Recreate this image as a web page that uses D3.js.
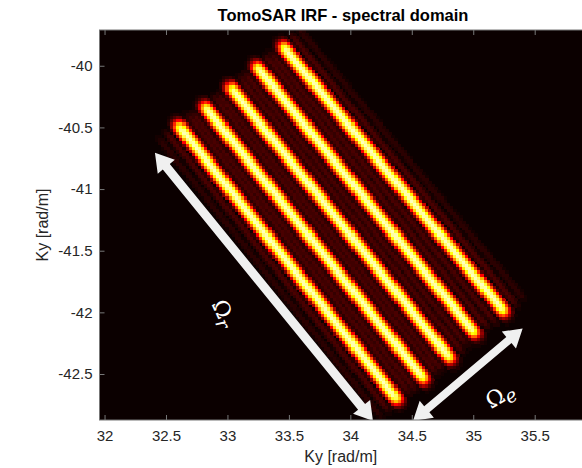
<!DOCTYPE html>
<html>
<head>
<meta charset="utf-8">
<script src="https://cdn.jsdelivr.net/npm/d3@7"></script>
<style>
body { margin: 0; background: #fff; }
text { font-family: "Liberation Sans", Arial, sans-serif; }
</style>
</head>
<body>
<div id="chart"></div>
<script>
"use strict"

const WIDTH = 582;
const HEIGHT = 468;
const PLOT_LEFT = 99.5;
const PLOT_RIGHT = 590;
const PLOT_TOP = 30;
const PLOT_BOTTOM = 420;

// axes
const kxDomain = [31.959, 35.95];
const kyDomain = [-42.873, -39.71];
const kxTicks = [32, 32.5, 33, 33.5, 34, 34.5, 35, 35.5];
const kyTicks = [-40, -40.5, -41, -41.5, -42, -42.5];
const GRID_STEP = 0.025;

// the five fringes: upper-left tip and lower-right tip
const stripeStartKx = [32.581, 32.793, 33.004, 33.216, 33.428];
const stripeStartKy = [-40.457, -40.303, -40.148, -39.978, -39.816];
const stripeEndKx = [34.404, 34.624, 34.835, 35.039, 35.275];
const stripeEndKy = [-42.736, -42.573, -42.403, -42.200, -42.022];
const stripePeak = [0.93, 0.93, 0.93, 0.93, 0.93];

// annotation arrows (from tip, to tip) and their labels
const arrowLabels = ["r", "e"];
const arrowFromKx = [32.410, 34.510];
const arrowFromKy = [-40.706, -42.880];
const arrowToKx = [34.184, 35.402];
const arrowToKy = [-42.880, -42.130];
const labelKx = [32.972, 35.218];
const labelKy = [-42.006, -42.671];
const labelAngle = [65, -30];

var x = d3.scaleLinear().domain(kxDomain).range([PLOT_LEFT, PLOT_RIGHT]);
var y = d3.scaleLinear().domain(kyDomain).range([PLOT_BOTTOM, PLOT_TOP]);

// MATLAB hot(64)
function hotMap(m) {
	var n = Math.floor(3 / 8 * m);
	var out = [];
	for (var i = 0; i < m; i++) {
		var r = Math.min(1, (i + 1) / n);
		var g = i < n ? 0 : Math.min(1, (i + 1 - n) / n);
		var b = i < 2 * n ? 0 : (i + 1 - 2 * n) / (m - 2 * n);
		out.push(d3.rgb(r * 255, g * 255, b * 255).formatHex());
	}
	return out;
}
const hot = hotMap(64);
var color = d3.scaleQuantize().domain([0, 1]).range(hot);

var svg = d3.select("#chart").append("svg")
	.attr("width", WIDTH)
	.attr("height", HEIGHT);

svg.append("defs").append("clipPath").attr("id", "plotClip")
	.append("rect")
	.attr("x", PLOT_LEFT).attr("y", PLOT_TOP)
	.attr("width", PLOT_RIGHT - PLOT_LEFT).attr("height", PLOT_BOTTOM - PLOT_TOP);

var plot = svg.append("g").attr("clip-path", "url(#plotClip)");

plot.append("rect")
	.attr("x", PLOT_LEFT).attr("y", PLOT_TOP)
	.attr("width", PLOT_RIGHT - PLOT_LEFT).attr("height", PLOT_BOTTOM - PLOT_TOP)
	.attr("fill", hot[0]);

// fringe geometry in pixels
var stripes = stripeStartKx.map(function(d, i) {
	var x0 = x(d), y0 = y(stripeStartKy[i]);
	var x1 = x(stripeEndKx[i]), y1 = y(stripeEndKy[i]);
	var len = Math.hypot(x1 - x0, y1 - y0);
	return { x0: x0, y0: y0, ux: (x1 - x0) / len, uy: (y1 - y0) / len, len: len, peak: stripePeak[i] };
});

const LOBE_W = 9.5;
const TIP_S = 5;
const SIDE_GAIN = 0.5;

function sinc(u) { return u == 0 ? 1 : Math.sin(Math.PI * u) / (Math.PI * u); }
function edge(u) { return 0.5 * (1 + Math.tanh((u - 0.2 * TIP_S) / TIP_S)); }

// main lobe plus two weakened side lobes across the fringe
function profile(u) {
	u = Math.abs(u);
	if (u < 1) return Math.abs(sinc(u));
	if (u < 3) return SIDE_GAIN * Math.abs(sinc(u));
	return 0;
}

function intensity(px, py) {
	var v = 0;
	stripes.forEach(function(s) {
		var dx = px - s.x0, dy = py - s.y0;
		var t = dx * s.ux + dy * s.uy;
		var d = dx * s.uy - dy * s.ux;
		var a = s.peak * edge(t) * edge(s.len - t) * profile(d / LOBE_W);
		if (a > v) v = a;
	});
	return Math.min(1, v);
}

var cells = [];
var nx = Math.ceil((kxDomain[1] - kxDomain[0]) / GRID_STEP);
var ny = Math.ceil((kyDomain[1] - kyDomain[0]) / GRID_STEP);
for (var i = 0; i < nx; i++) {
	for (var j = 0; j < ny; j++) {
		var kx = kxDomain[0] + i * GRID_STEP;
		var ky = kyDomain[1] - (j + 1) * GRID_STEP;
		var v = intensity(x(kx + GRID_STEP / 2), y(ky + GRID_STEP / 2));
		if (color(v) != hot[0]) cells.push({ kx: kx, ky: ky, v: v });
	}
}

plot.append("g")
	.attr("shape-rendering", "crispEdges")
	.selectAll("rect")
	.data(cells)
	.enter()
		.append("rect")
		.attr("x", function(d) { return x(d.kx); })
		.attr("y", function(d) { return y(d.ky + GRID_STEP); })
		.attr("width", x(kxDomain[0] + GRID_STEP) - x(kxDomain[0]) + 0.6)
		.attr("height", y(kyDomain[0]) - y(kyDomain[0] + GRID_STEP) + 0.6)
		.attr("fill", function(d) { return color(d.v); });

// double headed arrows
function arrowPath(x0, y0, x1, y1, sw, hw, hl) {
	var len = Math.hypot(x1 - x0, y1 - y0);
	var ux = (x1 - x0) / len, uy = (y1 - y0) / len;
	var nx = -uy, ny = ux;
	var pts = [
		[x0, y0],
		[x0 + ux * hl + nx * hw / 2, y0 + uy * hl + ny * hw / 2],
		[x0 + ux * hl + nx * sw / 2, y0 + uy * hl + ny * sw / 2],
		[x1 - ux * hl + nx * sw / 2, y1 - uy * hl + ny * sw / 2],
		[x1 - ux * hl + nx * hw / 2, y1 - uy * hl + ny * hw / 2],
		[x1, y1],
		[x1 - ux * hl - nx * hw / 2, y1 - uy * hl - ny * hw / 2],
		[x1 - ux * hl - nx * sw / 2, y1 - uy * hl - ny * sw / 2],
		[x0 + ux * hl - nx * sw / 2, y0 + uy * hl - ny * sw / 2],
		[x0 + ux * hl - nx * hw / 2, y0 + uy * hl - ny * hw / 2]
	];
	return "M" + pts.map(function(p) { return p[0] + "," + p[1]; }).join("L") + "Z";
}

var arrowShaft = [9, 8];
plot.selectAll(".arrow")
	.data(arrowLabels)
	.enter()
		.append("path")
		.attr("class", "arrow")
		.attr("d", function(d, i) {
			return arrowPath(x(arrowFromKx[i]), y(arrowFromKy[i]), x(arrowToKx[i]), y(arrowToKy[i]),
				arrowShaft[i], 22, 18);
		})
		.attr("fill", "#f0f0f0");

var labels = plot.selectAll(".omega")
	.data(arrowLabels)
	.enter()
		.append("text")
		.attr("class", "omega")
		.attr("transform", function(d, i) {
			return "translate(" + x(labelKx[i]) + "," + y(labelKy[i]) + ") rotate(" + labelAngle[i] + ")";
		})
		.attr("text-anchor", "middle")
		.attr("dy", "0.35em")
		.style("font-family", "'DejaVu Serif', serif")
		.style("font-size", "22px")
		.attr("fill", "#ffffff");
labels.append("tspan").text("Ω");
labels.append("tspan")
	.attr("dy", "0.25em")
	.style("font-style", "italic")
	.style("font-size", "19px")
	.text(function(d) { return d; });

// axes, ticks inside
var axisColor = "#777777";
var fmt = function(d) { return String(d); };
var gx = svg.append("g")
	.attr("transform", "translate(0," + PLOT_BOTTOM + ")")
	.call(d3.axisBottom(x).tickValues(kxTicks).tickSize(-5).tickPadding(10).tickFormat(fmt));
var gxTop = svg.append("g")
	.attr("transform", "translate(0," + PLOT_TOP + ")")
	.call(d3.axisTop(x).tickValues(kxTicks).tickSize(-5).tickFormat(""));
var gy = svg.append("g")
	.attr("transform", "translate(" + PLOT_LEFT + ",0)")
	.call(d3.axisLeft(y).tickValues(kyTicks).tickSize(-5).tickPadding(7).tickFormat(fmt));

[gx, gxTop, gy].forEach(function(g) {
	g.select(".domain").remove();
	g.selectAll("line").attr("stroke", axisColor);
	g.selectAll("text")
		.style("font-family", "'Liberation Sans', Arial, sans-serif")
		.style("font-size", "15px")
		.attr("fill", "#262626");
});

svg.append("rect")
	.attr("x", PLOT_LEFT).attr("y", PLOT_TOP)
	.attr("width", PLOT_RIGHT - PLOT_LEFT).attr("height", PLOT_BOTTOM - PLOT_TOP)
	.attr("fill", "none")
	.attr("stroke", axisColor)
	.attr("stroke-width", 1);

svg.append("text")
	.attr("x", 343)
	.attr("y", 21)
	.attr("text-anchor", "middle")
	.style("font-weight", "bold")
	.style("font-size", "16.5px")
	.attr("fill", "#000")
	.text("TomoSAR IRF - spectral domain");

svg.append("text")
	.attr("x", (PLOT_LEFT + 582) / 2)
	.attr("y", 462)
	.attr("text-anchor", "middle")
	.style("font-size", "16px")
	.attr("fill", "#262626")
	.text("Ky [rad/m]");

svg.append("text")
	.attr("transform", "translate(48," + (PLOT_TOP + PLOT_BOTTOM) / 2 + ") rotate(-90)")
	.attr("text-anchor", "middle")
	.style("font-size", "16px")
	.attr("fill", "#262626")
	.text("Ky [rad/m]");
</script>
</body>
</html>
